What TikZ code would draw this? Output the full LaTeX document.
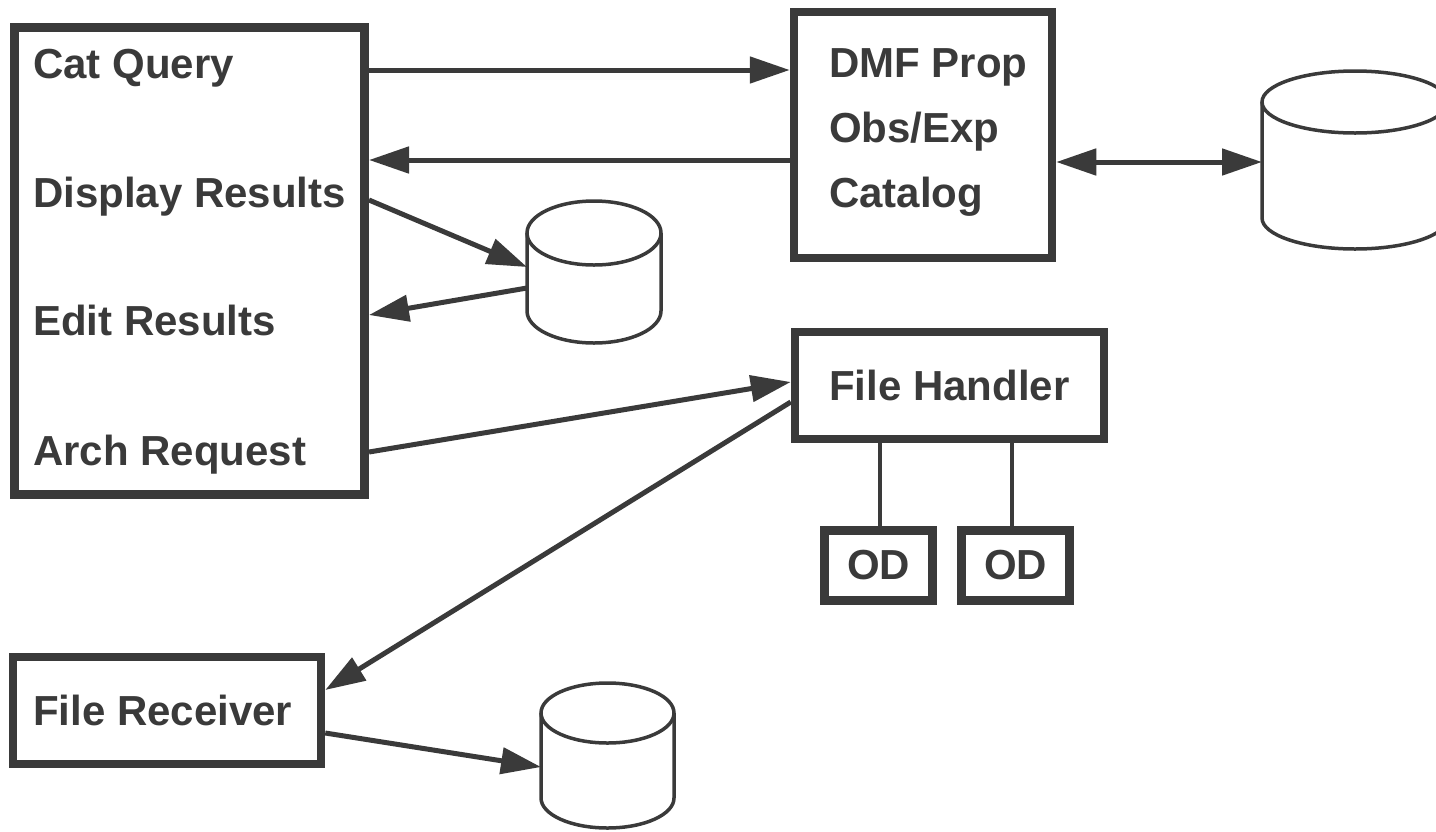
\documentclass[tikz,border=0pt]{standalone}
\usepackage{fontspec}
\setmainfont{Liberation Sans}
\usetikzlibrary{positioning,calc,arrows.meta}

\definecolor{ink}{HTML}{3A3A3A}

% drum: name, x, y, x radius, y radius, side height
\newcommand{\drum}[6]{
	\node[dbspot, minimum width=2*#4pt, minimum height=#6pt+2*#5pt] (#1) at (#2,#3) {};
	\draw[dbline] ([yshift=#6pt/2]#1.center) ellipse [x radius=#4pt, y radius=#5pt];
	\draw[dbline] ([xshift=-#4pt, yshift=#6pt/2]#1.center) -- ([xshift=-#4pt, yshift=-#6pt/2]#1.center)
		arc [start angle=180, end angle=360, x radius=#4pt, y radius=#5pt]
		-- ([xshift=#4pt, yshift=#6pt/2]#1.center);
}

\begin{document}
\begin{tikzpicture}[x=1pt, y=-1pt]
	\useasboundingbox (0,0) rectangle (1436,831);
	\begin{scope}
		\tikzstyle{every node}=[inner sep=0pt, text=ink, font=\bfseries\fontsize{42}{50}\selectfont]
		\tikzstyle{box}=[draw=ink, line width=8.5pt]
		\tikzstyle{lbl}=[anchor=base west]
		\tikzstyle{dbspot}=[outer sep=0pt]
		\tikzstyle{dbline}=[draw=ink, line width=3.5pt]
		\tikzstyle{arr}=[draw=ink, line width=5pt, -{Triangle[length=40pt, width=26pt]}]
		\tikzstyle{dblarr}=[draw=ink, line width=5pt, {Triangle[length=40pt, width=26pt]}-{Triangle[length=40pt, width=26pt]}]
		\tikzstyle{link}=[draw=ink, line width=3.5pt]

		\node[box, line width=9pt, minimum width=350pt, minimum height=467pt] (client) at (189.5,261) {};
		\node[lbl] (catq) at (33,78) {Cat Query};
		\node[lbl] (disp) at (33,207) {Display Results};
		\node[lbl] (edit) at (33,335) {Edit Results};
		\node[lbl] (arch) at (33,465) {Arch Request};

		\node[box, minimum width=258pt, minimum height=246pt] (dmf) at (923,135) {};
		\node[lbl] (dmfp) at (829,77) {DMF Prop};
		\node[lbl] (obs) at (829,142) {Obs/Exp};
		\node[lbl] (cat) at (829,207) {Catalog};

		\node[box, minimum width=309pt, minimum height=107pt] (fh) at (949.5,385.5) {File Handler};
		\node[box, line width=9pt, minimum width=108pt, minimum height=70pt] (od1) at (878.5,565.5) {OD};
		\node[box, line width=9pt, minimum width=108pt, minimum height=70pt] (od2) at (1015.5,565.5) {OD};
		\node[box, minimum width=308pt, minimum height=107pt] (fr) at (167,710.5) {};
		\node[lbl] (frl) at (33,725) {File Receiver};

		\drum{db1}{594}{272}{67}{32}{78}
		\drum{dbcat}{1355}{160}{93}{31}{116}
		\drum{db3}{607.5}{755.5}{66.5}{30}{85}

		\draw [arr] (client.east |- 0,70) -- (dmf.west |- 0,70);
		\draw [arr] (dmf.west |- 0,160) -- (client.east |- 0,160);
		\draw [dblarr] (dmf.east |- 0,162) -- (dbcat.west |- 0,162);
		\draw [arr] (client.east |- 0,200) -- (db1.west |- 0,267);
		\draw [arr] (db1.west |- 0,288) -- (client.east |- 0,315);
		\draw [arr] (client.east |- 0,452) -- (fh.west |- 0,382);
		\draw [arr] (fh.west |- 0,402) -- (fr.east |- 0,690);
		\draw [arr] (fr.east |- 0,733) -- (db3.west |- 0,767);

		\draw [link] (fh.south -| 880,0) -- (od1.north -| 880,0);
		\draw [link] (fh.south -| 1012,0) -- (od2.north -| 1012,0);
	\end{scope}
\end{tikzpicture}
\end{document}
